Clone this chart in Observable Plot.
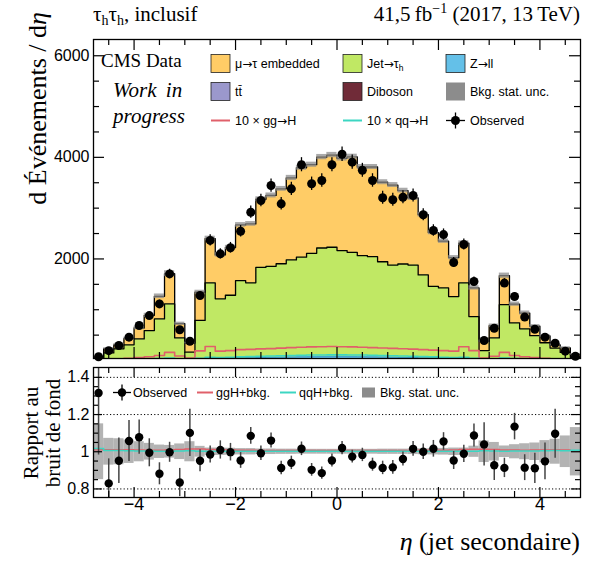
<!DOCTYPE html>
<html><head><meta charset="utf-8">
<script src="https://cdn.jsdelivr.net/npm/d3@7"></script>
<script src="https://cdn.jsdelivr.net/npm/@observablehq/plot@0.6"></script>
<style>
html,body{margin:0;padding:0;background:#fff}
#wrap{position:relative;width:595px;height:562px;overflow:hidden;background:#fff}
#wrap > svg{position:absolute;left:0}
</style></head><body><div id="wrap"></div><script>
// ---- data (dN/deta per bin of width 0.2) ----
const edges = [-4.8,-4.6,-4.4,-4.2,-4.0,-3.8,-3.6,-3.4,-3.2,-3.0,-2.8,-2.6,-2.4,-2.2,-2.0,-1.8,-1.6,-1.4,-1.2,-1.0,-0.8,-0.6,-0.4,-0.2,0,0.2,0.4,0.6,0.8,1.0,1.2,1.4,1.6,1.8,2.0,2.2,2.4,2.6,2.8,3.0,3.2,3.4,3.6,3.8,4.0,4.2,4.4,4.6,4.8];
const observed = [75,195,295,460,690,885,1115,1705,605,380,1280,2365,2100,2220,2545,2920,3150,3445,3085,3380,3855,3480,3545,3855,4060,3905,3745,3545,3205,3165,3215,3250,2870,2560,2480,1930,2285,1555,395,635,1525,1260,855,615,460,340,185,85];
const observedErr = [19,31,38,48,59,67,75,92,55,44,80,109,102,105,113,121,125,131,124,130,139,132,133,139,142,140,137,133,127,126,127,127,120,113,111,98,107,88,44,56,87,79,65,55,48,41,30,21];
const embedded = [17,85,80,125,215,300,445,595,280,180,555,870,865,940,1095,1160,1340,1395,1475,1615,1760,1745,1790,1815,1815,1880,1745,1765,1565,1575,1445,1320,1185,1060,920,765,780,565,185,240,570,370,310,185,135,65,90,55];
const jetFakes = [34,141,219,295,407,568,795,1083,429,156,766,1489,1175,1241,1526,1476,1776,1791,1838,1909,1960,2033,2136,2150,2085,2052,1989,1972,1875,1814,1839,1822,1633,1412,1388,1221,1489,841,186,429,1069,715,603,472,335,234,151,59];
const zll = [3,5,6,8,10,12,14,18,9,5,13,22,20,22,25,27,30,32,34,36,38,39,40,41,41,40,39,38,36,34,32,30,27,25,22,20,22,13,5,9,17,14,12,10,8,6,5,3];
const ttbar = [2,3,4,5,6,7,8,10,5,3,8,14,15,16,18,20,22,24,25,27,28,29,30,30,30,29,28,27,26,24,22,21,19,17,15,14,14,8,3,5,10,8,7,6,5,4,3,2];
const diboson = [1,1,1,2,2,3,3,4,2,1,3,5,5,6,6,7,7,8,8,8,9,9,9,9,9,9,9,8,8,8,7,7,6,6,5,5,5,3,1,2,4,3,3,2,2,1,1,1];
const bkgRelUnc = [0.15,0.072,0.07,0.063,0.054,0.045,0.036,0.034,0.042,0.054,0.029,0.02,0.02,0.019,0.017,0.017,0.015,0.015,0.014,0.014,0.013,0.013,0.013,0.013,0.013,0.013,0.013,0.013,0.014,0.014,0.014,0.015,0.016,0.017,0.018,0.02,0.02,0.03,0.058,0.05,0.031,0.038,0.043,0.047,0.06,0.067,0.085,0.13];
const ggH10 = [6,25,35,45,60,75,100,160,90,50,190,275,185,195,215,220,230,235,245,255,262,268,272,275,272,268,262,255,248,240,232,225,215,205,195,185,270,195,50,85,160,100,75,60,45,35,25,6];
const qqH10 = [10,15,20,25,30,35,40,50,30,20,45,65,60,65,72,78,84,90,95,100,104,108,110,112,112,110,108,104,100,95,90,84,78,72,65,60,65,45,20,30,50,40,35,30,25,20,15,10];
const signalScale = 10;

// ticks
const xMajor = [-4,-2,0,2,4];
const xMinor = [-4.5,-3.5,-3,-2.5,-1.5,-1,-0.5,0.5,1,1.5,2.5,3,3.5,4.5];
const yMajor = [2000,4000,6000];
const yMinor = [500,1000,1500,2500,3000,3500,4500,5000,5500];
const rMajor = [0.8,1,1.2,1.4];
const rMinor = [0.85,0.9,0.95,1.05,1.1,1.15,1.25,1.3,1.35];
const rGrid = [0.8,1.2,1.4];

// colours
const C = {emb:"#ffcc66", jet:"#c0e864", zll:"#64c0e8", tt:"#9b98cc", db:"#702b38", unc:"#8c8c8c", gg:"#e0606a", qq:"#3cd6c2"};

// ---- build rows ----
const n = observed.length;
const bins = d3.range(n).map(i => {
  const b = {x1: edges[i], x2: edges[i+1], xc: (edges[i]+edges[i+1])/2,
    obs: observed[i], err: observedErr[i], unc: bkgRelUnc[i], gg: ggH10[i], qq: qqH10[i]};
  b.cDb = diboson[i];
  b.cTt = b.cDb + ttbar[i];
  b.cZll = b.cTt + zll[i];
  b.cJet = b.cZll + jetFakes[i];
  b.total = b.cJet + embedded[i];
  b.ratio = b.obs / b.total;
  b.rErr = b.err / b.total;
  b.rgg = (b.total + b.gg / signalScale) / b.total;
  b.rqq = (b.total + b.qq / signalScale) / b.total;
  return b;
});
const steps = bins.map(b => ({...b, x: b.x1})).concat([{...bins[n-1], x: edges[n]}]);

const W = 595, ML = 93, MR = 15;
const FW = W - ML - MR;
const sans = "'Liberation Sans', Arial, Helvetica, sans-serif";
const serif = "'Liberation Serif', 'Times New Roman', serif";

// ---- main panel ----
const mainH = 362, mainTop = 39, mainBottom = 358;
const FH = mainBottom - mainTop;
const layers = [["total", C.emb], ["cJet", C.jet], ["cZll", C.zll], ["cTt", C.tt], ["cDb", C.db]];
const main = Plot.plot({
  width: W, height: mainH, marginLeft: ML, marginRight: MR, marginTop: mainTop, marginBottom: mainH - mainBottom,
  style: {fontFamily: sans, fontSize: "16px", background: "transparent", color: "black"},
  x: {domain: [edges[0], edges[n]], axis: null},
  y: {domain: [40, 6320], axis: null},
  marks: [
    ...layers.map(([k, c]) => Plot.areaY(steps, {x: "x", y1: () => 0, y2: k, curve: "step-after", fill: c, clip: true})),
    Plot.line(steps, {x: "x", y: "cZll", curve: "step-after", stroke: "#3a9ccc", strokeWidth: 0.8, clip: true}),
    Plot.line(steps, {x: "x", y: "cJet", curve: "step-after", stroke: "black", strokeWidth: 1.3, clip: true}),
    Plot.line(steps, {x: "x", y: "total", curve: "step-after", stroke: "black", strokeWidth: 1.3, clip: true}),
    Plot.rect(bins, {x1: "x1", x2: "x2", y1: d => d.total * (1 - d.unc), y2: d => d.total * (1 + d.unc), fill: C.unc, fillOpacity: 0.75, inset: 0, clip: true}),
    Plot.line(steps, {x: "x", y: "gg", curve: "step-after", stroke: C.gg, strokeWidth: 1.6, clip: true}),
    Plot.line(steps, {x: "x", y: "qq", curve: "step-after", stroke: C.qq, strokeWidth: 1.6, clip: true}),
    Plot.ruleX(bins, {x: "xc", y1: d => d.obs - d.err, y2: d => d.obs + d.err, stroke: "black", strokeWidth: 1.3, clip: true}),
    Plot.dot(bins, {x: "xc", y: "obs", r: 4.5, fill: "black", stroke: "none"}),
    Plot.frame({stroke: "black", strokeWidth: 1.3}),
    Plot.ruleX(xMajor, {x: d => d, insetTop: FH - 11, stroke: "black", strokeWidth: 1.2}),
    Plot.ruleX(xMajor, {x: d => d, insetBottom: FH - 11, stroke: "black", strokeWidth: 1.2}),
    Plot.ruleX(xMinor, {x: d => d, insetTop: FH - 6, stroke: "black", strokeWidth: 1.2}),
    Plot.ruleX(xMinor, {x: d => d, insetBottom: FH - 6, stroke: "black", strokeWidth: 1.2}),
    Plot.ruleY(yMajor, {y: d => d, insetRight: FW - 11, stroke: "black", strokeWidth: 1.2}),
    Plot.ruleY(yMajor, {y: d => d, insetLeft: FW - 11, stroke: "black", strokeWidth: 1.2}),
    Plot.ruleY(yMinor, {y: d => d, insetRight: FW - 6, stroke: "black", strokeWidth: 1.2}),
    Plot.ruleY(yMinor, {y: d => d, insetLeft: FW - 6, stroke: "black", strokeWidth: 1.2}),
    Plot.text(yMajor, {y: d => d, text: d => String(d), frameAnchor: "left", dx: -4, textAnchor: "end", fontSize: 16, fill: "black"})
  ]
});
main.style.top = "0px";

// ---- ratio panel ----
const ratioPos = 360, ratioH = 202, ratioTop = 7, ratioBottom = 137;
const RH = ratioBottom - ratioTop;
const rDom = [0.754, 1.453];
const fmtX = d => d < 0 ? "\u2212" + Math.abs(d) : String(d);
const inRange = bins.filter(d => d.ratio > rDom[0] && d.ratio < rDom[1]);
const ratio = Plot.plot({
  width: W, height: ratioH, marginLeft: ML, marginRight: MR, marginTop: ratioTop, marginBottom: ratioH - ratioBottom,
  style: {fontFamily: sans, fontSize: "16px", background: "transparent", color: "black"},
  x: {domain: [edges[0], edges[n]], axis: null},
  y: {domain: rDom, axis: null},
  marks: [
    Plot.ruleY(rGrid, {y: d => d, stroke: "black", strokeWidth: 1, strokeDasharray: "1.2,2.2"}),
    Plot.rect(bins, {x1: "x1", x2: "x2", y1: d => 1 - d.unc, y2: d => 1 + d.unc, fill: "#a0a0a0", fillOpacity: 0.8, inset: 0, clip: true}),
    Plot.line(steps, {x: "x", y: "rgg", curve: "step-after", stroke: C.gg, strokeWidth: 1.5, clip: true}),
    Plot.line(steps, {x: "x", y: "rqq", curve: "step-after", stroke: C.qq, strokeWidth: 1.5, clip: true}),
    Plot.ruleX(inRange, {x: "xc", y1: d => d.ratio - d.rErr, y2: d => d.ratio + d.rErr, stroke: "#444", strokeWidth: 1.5, clip: true}),
    Plot.dot(inRange, {x: "xc", y: "ratio", r: 4.2, fill: "black", stroke: "none"}),
    Plot.frame({stroke: "black", strokeWidth: 1.3}),
    Plot.ruleX(xMajor, {x: d => d, insetTop: RH - 10, stroke: "black", strokeWidth: 1.2}),
    Plot.ruleX(xMajor, {x: d => d, insetBottom: RH - 10, stroke: "black", strokeWidth: 1.2}),
    Plot.ruleX(xMinor, {x: d => d, insetTop: RH - 6, stroke: "black", strokeWidth: 1.2}),
    Plot.ruleX(xMinor, {x: d => d, insetBottom: RH - 6, stroke: "black", strokeWidth: 1.2}),
    Plot.ruleY(rMajor, {y: d => d, insetRight: FW - 9, stroke: "black", strokeWidth: 1.2}),
    Plot.ruleY(rMajor, {y: d => d, insetLeft: FW - 9, stroke: "black", strokeWidth: 1.2}),
    Plot.ruleY(rMinor, {y: d => d, insetRight: FW - 5, stroke: "black", strokeWidth: 1.2}),
    Plot.ruleY(rMinor, {y: d => d, insetLeft: FW - 5, stroke: "black", strokeWidth: 1.2}),
    Plot.text(rMajor, {y: d => d, text: d => String(d), frameAnchor: "left", dx: -4, textAnchor: "end", fontSize: 16, fill: "black"}),
    Plot.text(xMajor, {x: d => d, text: fmtX, frameAnchor: "bottom", dy: 12, fontSize: 18, fill: "black"})
  ]
});
ratio.style.top = ratioPos + "px";

const wrap = document.getElementById("wrap");
wrap.appendChild(main);
wrap.appendChild(ratio);

// ---- overlay: titles & legends ----
const svg = d3.create("svg").attr("width", W).attr("height", 562)
  .style("position", "absolute").style("left", "0px").style("top", "0px");

// header left
const hl = svg.append("text").attr("x", 93).attr("y", 21).attr("font-family", serif).attr("font-size", 21).attr("fill", "black");
hl.append("tspan").text("τ");
hl.append("tspan").attr("dy", 4).attr("font-size", 14).text("h");
hl.append("tspan").attr("dy", -4).text("τ");
hl.append("tspan").attr("dy", 4).attr("font-size", 14).text("h");
hl.append("tspan").attr("dy", -4).text(", inclusif");
// header right
const hr = svg.append("text").attr("x", 580).attr("y", 21).attr("text-anchor", "end").attr("font-family", serif).attr("font-size", 21).attr("fill", "black");
hr.append("tspan").text("41,5\u2009fb");
hr.append("tspan").attr("dy", -8).attr("font-size", 14).text("\u22121");
hr.append("tspan").attr("dy", 8).text(" (2017, 13\u2009TeV)");

// y title main
const yt = svg.append("text").attr("transform", "translate(46,12) rotate(-90)").attr("text-anchor", "end")
  .attr("font-family", serif).attr("font-size", 26).attr("fill", "black");
yt.append("tspan").text("d Événements / d");
yt.append("tspan").attr("font-style", "italic").text("η");
// ratio title
svg.append("text").attr("transform", "translate(38,433) rotate(-90)").attr("text-anchor", "middle")
  .attr("font-family", serif).attr("font-size", 21).attr("fill", "black").text("Rapport au");
svg.append("text").attr("transform", "translate(60,433) rotate(-90)").attr("text-anchor", "middle")
  .attr("font-family", serif).attr("font-size", 21).attr("fill", "black").text("bruit de fond");
// x title
const xt = svg.append("text").attr("x", 580).attr("y", 550).attr("text-anchor", "end")
  .attr("font-family", serif).attr("font-size", 26).attr("fill", "black");
xt.append("tspan").attr("font-style", "italic").text("η");
xt.append("tspan").text(" (jet secondaire)");

// CMS label
svg.append("text").attr("x", 101).attr("y", 67).attr("font-family", serif).attr("font-size", 19).attr("fill", "black").text("CMS Data");
svg.append("text").attr("x", 113).attr("y", 97).attr("font-family", serif).attr("font-style", "italic").attr("font-size", 21).attr("word-spacing", 4).attr("fill", "black").text("Work in");
svg.append("text").attr("x", 113).attr("y", 123).attr("font-family", serif).attr("font-style", "italic").attr("font-size", 21).attr("fill", "black").text("progress");

// helper: text with long arrows
function arrowText(sel, x, y, str) {
  const t = sel.append("text").attr("x", x).attr("y", y);
  str.split("→").forEach((part, i) => {
    if (i > 0) t.append("tspan").attr("font-family", "'DejaVu Sans', sans-serif").attr("font-size", 12).text("→");
    if (part) t.append("tspan").text(part);
  });
  return t;
}

// main legend
const lg = svg.append("g").attr("font-family", sans).attr("font-size", 12.5).attr("fill", "black");
const colX = [211, 343, 446];
const rowY = [63.5, 91.5, 120.5];
const boxes = [
  [0, 0, C.emb, true, "μ→τ embedded"],
  [1, 0, C.jet, true, null],
  [2, 0, C.zll, true, "Z→ll"],
  [0, 1, C.tt, true, "tt\u0304"],
  [1, 1, C.db, true, "Diboson"],
  [2, 1, C.unc, false, "Bkg. stat. unc."]
];
boxes.forEach(([c, r, col, st, label]) => {
  lg.append("rect").attr("x", colX[c]).attr("y", rowY[r] - 9).attr("width", 19).attr("height", 18)
    .attr("fill", col).attr("stroke", st ? "#222" : "none").attr("stroke-width", st ? 0.8 : 0);
  if (label) arrowText(lg, colX[c] + 24, rowY[r] + 4.5, label);
});
const jt = arrowText(lg, colX[1] + 24, rowY[0] + 4.5, "Jet→τ");
jt.append("tspan").attr("dy", 3).attr("font-size", 8.5).text("h");
lg.append("line").attr("x1", colX[0]).attr("x2", colX[0] + 19).attr("y1", rowY[2]).attr("y2", rowY[2]).attr("stroke", C.gg).attr("stroke-width", 2);
arrowText(lg, colX[0] + 24, rowY[2] + 4.5, "10 × gg→H");
lg.append("line").attr("x1", colX[1]).attr("x2", colX[1] + 19).attr("y1", rowY[2]).attr("y2", rowY[2]).attr("stroke", C.qq).attr("stroke-width", 2);
arrowText(lg, colX[1] + 24, rowY[2] + 4.5, "10 × qq→H");
lg.append("line").attr("x1", colX[2]).attr("x2", colX[2] + 19).attr("y1", rowY[2]).attr("y2", rowY[2]).attr("stroke", "black").attr("stroke-width", 1.3);
lg.append("line").attr("x1", colX[2] + 9.5).attr("x2", colX[2] + 9.5).attr("y1", rowY[2] - 8).attr("y2", rowY[2] + 8).attr("stroke", "black").attr("stroke-width", 1.3);
lg.append("circle").attr("cx", colX[2] + 9.5).attr("cy", rowY[2]).attr("r", 4.5).attr("fill", "black");
lg.append("text").attr("x", colX[2] + 24).attr("y", rowY[2] + 4.5).text("Observed");

// ratio legend
const rl = svg.append("g").attr("font-family", sans).attr("font-size", 12.5).attr("fill", "black");
const ry = 392.5;
rl.append("line").attr("x1", 113).attr("x2", 131).attr("y1", ry).attr("y2", ry).attr("stroke", "black").attr("stroke-width", 1.3);
rl.append("line").attr("x1", 122).attr("x2", 122).attr("y1", ry - 8).attr("y2", ry + 8).attr("stroke", "black").attr("stroke-width", 1.3);
rl.append("circle").attr("cx", 122).attr("cy", ry).attr("r", 4.2).attr("fill", "black");
rl.append("text").attr("x", 133).attr("y", ry + 4.5).text("Observed");
rl.append("line").attr("x1", 197).attr("x2", 213).attr("y1", ry).attr("y2", ry).attr("stroke", C.gg).attr("stroke-width", 2);
rl.append("text").attr("x", 216).attr("y", ry + 4.5).text("ggH+bkg.");
rl.append("line").attr("x1", 280).attr("x2", 296).attr("y1", ry).attr("y2", ry).attr("stroke", C.qq).attr("stroke-width", 2);
rl.append("text").attr("x", 299).attr("y", ry + 4.5).text("qqH+bkg.");
rl.append("rect").attr("x", 362).attr("y", ry - 5).attr("width", 13).attr("height", 10).attr("fill", C.unc);
rl.append("text").attr("x", 380).attr("y", ry + 4.5).text("Bkg. stat. unc.");

wrap.appendChild(svg.node());
</script></body></html>
